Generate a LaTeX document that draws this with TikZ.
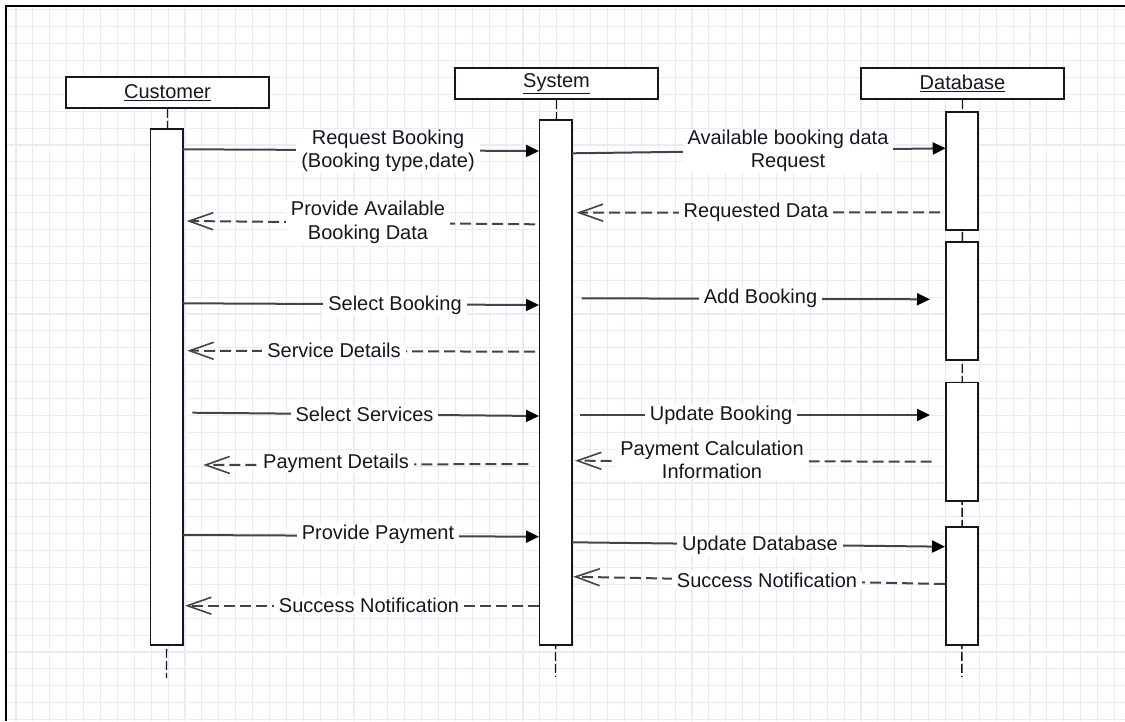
\documentclass[tikz,border=0pt]{standalone}
\usepackage{fontspec}
\setmainfont{Liberation Sans}
\usetikzlibrary{arrows.meta}
\definecolor{gridc}{RGB}{234,234,255}
\definecolor{wire}{RGB}{68,68,68}
\definecolor{ink}{RGB}{22,22,34}
\tikzset{
  lbl/.style={fill=white, text=ink, inner xsep=5pt, inner ysep=1pt, align=center,
              font=\fontsize{20}{23.5}\selectfont},
  head/.style={draw=ink, fill=white, line width=1.6pt, minimum width=203pt,
               minimum height=31pt, inner sep=0pt, text=ink,
               font=\fontsize{20}{24}\selectfont},
  act/.style={draw=ink, fill=white, line width=1.6pt, minimum width=32.4pt,
              inner sep=0pt, anchor=north},
  lifeline/.style={draw=ink, line width=1.4pt, dash pattern=on 9pt off 3pt},
  call/.style={draw=wire, line width=2pt,
               -{Triangle[length=13pt,width=12pt,color=black]}},
  reply/.style={draw=wire, line width=2pt, dash pattern=on 11pt off 5pt,
                -{Straight Barb[length=24pt,width=17pt,line width=1.6pt]}},
}
\begin{document}
\begin{tikzpicture}[x=1pt,y=-1pt]
\useasboundingbox (0,0) rectangle (1125,721);

% background grid
\begin{scope}
  \clip (5,6) rectangle (1125,721);
  \foreach \i in {0,...,66}
    \draw[gridc, line width=1.1pt] ({16+16.9*\i},6) -- ({16+16.9*\i},721);
  \foreach \j in {0,...,42}
    \draw[gridc, line width=1.1pt] (5,{9.8+16.9*\j}) -- (1125,{9.8+16.9*\j});
\end{scope}
% sheet border
\draw[black, line width=2pt] (5.5,721) -- (5.5,5.5) -- (1125,5.5);

% participants
\node[head] (cust) at (167.5,92.5) {\underline{Customer}};
\node[head] (sys)  at (556.5,83.5) {\underline{System}};
\node[head] (db)   at (962.5,83.5) {\underline{Database}};

% lifeline ends
\coordinate (custEnd) at (166.5,678);
\coordinate (sysEnd)  at (555.5,677);
\coordinate (dbEnd)   at (961.9,677);
\draw[lifeline] (cust.south) -- (custEnd);
\draw[lifeline] (sys.south)  -- (sysEnd);
\draw[lifeline] (db.south)   -- (dbEnd);

% activation bars
\node[act, minimum height=516.3pt] (custA) at (166.5,128) {};
\node[act, minimum height=525pt]   (sysA)  at (555.5,119.3) {};
\node[act, minimum height=118.3pt] (dbA1)  at (961.9,111) {};
\node[act, minimum height=118.3pt] (dbA2)  at (961.9,241) {};
\node[act, minimum height=118.3pt] (dbA3)  at (961.9,381.7) {};
\node[act, minimum height=118pt]   (dbA4)  at (961.9,526) {};

% message end points
\coordinate (m1a) at (183,149.3);   \coordinate (m1b) at (539,151);
\coordinate (m2a) at (535,224.3);   \coordinate (m2b) at (186.7,221);
\coordinate (m3a) at (572,153.3);   \coordinate (m3b) at (945.7,148.3);
\coordinate (m4a) at (940,212.3);   \coordinate (m4b) at (576.7,212.7);
\coordinate (m5a) at (183,303.3);   \coordinate (m5b) at (539,305);
\coordinate (m6a) at (581.7,298.3); \coordinate (m6b) at (930,299.3);
\coordinate (m7a) at (535,351.7);   \coordinate (m7b) at (187.3,350.7);
\coordinate (m8a) at (192.3,412.7); \coordinate (m8b) at (539,416);
\coordinate (m9a) at (580,415);     \coordinate (m9b) at (930,415);
\coordinate (m10a) at (528.3,464);  \coordinate (m10b) at (203.3,465);
\coordinate (m11a) at (931.7,461.7);\coordinate (m11b) at (575,460.7);
\coordinate (m12a) at (183,535);    \coordinate (m12b) at (539,536.7);
\coordinate (m13a) at (572,542.3);  \coordinate (m13b) at (945,546.7);
\coordinate (m14a) at (945,584);    \coordinate (m14b) at (573.3,576.7);
\coordinate (m15a) at (539.3,605.7);\coordinate (m15b) at (185,605.7);

% messages
\draw[call]  (m1a) -- (m1b);
\draw[reply] (m2a) -- (m2b);
\draw[call]  (m3a) -- (m3b);
\draw[reply] (m4a) -- (m4b);
\draw[call]  (m5a) -- (m5b);
\draw[call]  (m6a) -- (m6b);
\draw[reply] (m7a) -- (m7b);
\draw[call]  (m8a) -- (m8b);
\draw[call]  (m9a) -- (m9b);
\draw[reply] (m10a) -- (m10b);
\draw[reply] (m11a) -- (m11b);
\draw[call]  (m12a) -- (m12b);
\draw[call]  (m13a) -- (m13b);
\draw[reply] (m14a) -- (m14b);
\draw[reply] (m15a) -- (m15b);

% message labels
\node[lbl] (l1)  at (388,151)   {Request Booking\\(Booking type,date)};
\node[lbl] (l2)  at (368,222.5) {Provide Available\\Booking Data};
\node[lbl] (l3)  at (788,151)   {Available booking data\\Request};
\node[lbl] (l4)  at (756,212)   {Requested Data};
\node[lbl] (l5)  at (395,305)   {Select Booking};
\node[lbl] (l6)  at (760.5,298) {Add Booking};
\node[lbl] (l7)  at (334,350)   {Service Details};
\node[lbl] (l8)  at (364.5,414.7) {Select Services};
\node[lbl] (l9)  at (721,415)   {Update Booking};
\node[lbl] (l10) at (336,463)   {Payment Details};
\node[lbl] (l11) at (712,460)   {Payment Calculation\\Information};
\node[lbl] (l12) at (378,534)   {Provide Payment};
\node[lbl] (l13) at (760,545)   {Update Database};
\node[lbl] (l14) at (767,580.7) {Success Notification};
\node[lbl] (l15) at (369,605)   {Success Notification};
\end{tikzpicture}
\end{document}
